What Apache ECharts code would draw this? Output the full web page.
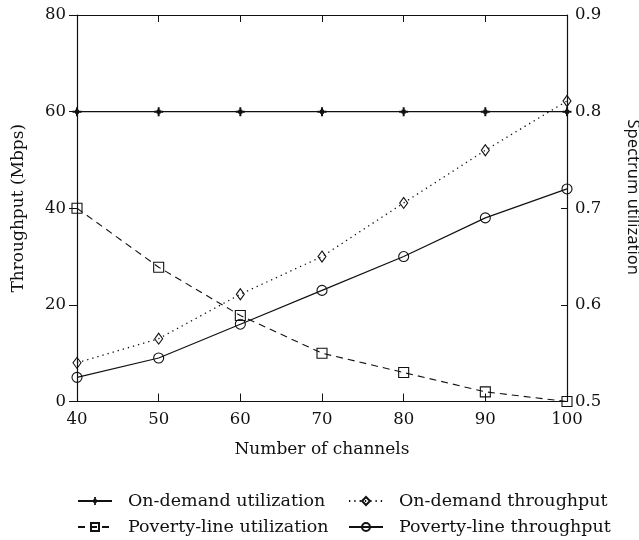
<!DOCTYPE html>
<html>
<head>
<meta charset="utf-8">
<script src="https://cdn.jsdelivr.net/npm/echarts@6/dist/echarts.min.js"></script>
<style>
  html, body { margin: 0; padding: 0; background: #fff; }
  #chart { width: 639px; height: 540px; }
</style>
</head>
<body>
<div id="chart"></div>
<script>
// Number of channels on the x axis
const channels = [40, 50, 60, 70, 80, 90, 100];

// Spectrum utilization (right axis)
const onDemandUtilization = [0.8, 0.8, 0.8, 0.8, 0.8, 0.8, 0.8];
const povertyLineUtilization = [0.70, 0.639, 0.589, 0.55, 0.53, 0.51, 0.50];

// Throughput in Mbps (left axis)
const onDemandThroughput = [8, 13, 22.2, 30, 41.1, 52, 62.2];
const povertyLineThroughput = [5, 9, 16, 23, 30, 38, 44];

const seriesNames = [
  'On-demand utilization',
  'On-demand throughput',
  'Poverty-line utilization',
  'Poverty-line throughput'
];

const serif = 'DejaVu Serif';
const ink = '#111';

const pairs = (ys) => channels.map((x, i) => [x, ys[i]]);

// small bold cross used for the on-demand utilization points
const plusSymbol = 'path://M-1,-4.5 L1,-4.5 L1,-2 L2,-2 L2,-1 L4.5,-1 L4.5,1 L2,1 L2,2 L1,2 L1,4.5 L-1,4.5 L-1,2 L-2,2 L-2,1 L-4.5,1 L-4.5,-1 L-2,-1 L-2,-2 L-1,-2 Z';

const hollow = { color: 'rgba(255,255,255,0)', borderColor: ink, borderWidth: 1.1 };

const chart = echarts.init(document.getElementById('chart'), null, { renderer: 'canvas' });

const legendBase = {
  orient: 'vertical',
  selectedMode: false,
  itemWidth: 34,
  itemHeight: 10,
  itemGap: 6,
  padding: 0,
  textStyle: { fontFamily: serif, fontSize: 17.5, lineHeight: 20, color: ink, padding: [0, 0, 0, 11] }
};

chart.setOption({
  animation: false,
  backgroundColor: '#fff',
  grid: { left: 77, right: 72, top: 15, bottom: 138.5, containLabel: false, outerBoundsMode: 'none' },
  legend: [
    Object.assign({}, legendBase, { left: 77, top: 491, data: [seriesNames[0], seriesNames[2]] }),
    Object.assign({}, legendBase, { left: 348, top: 491, data: [seriesNames[1], seriesNames[3]] })
  ],
  xAxis: [
    {
      type: 'value', min: 40, max: 100, interval: 10, position: 'bottom',
      name: 'Number of channels', nameLocation: 'middle', nameGap: 40,
      nameTextStyle: { fontFamily: serif, fontSize: 17, color: ink },
      axisLine: { lineStyle: { color: ink, width: 1.2 } },
      axisTick: { inside: true, length: 8, lineStyle: { color: ink, width: 1 } },
      axisLabel: { fontFamily: serif, fontSize: 16.5, color: ink, margin: 10 },
      splitLine: { show: false }
    },
    {
      type: 'value', min: 40, max: 100, interval: 10, position: 'top',
      axisLine: { lineStyle: { color: ink, width: 1.2 } },
      axisTick: { inside: true, length: 7, lineStyle: { color: ink, width: 1 } },
      axisLabel: { show: false },
      splitLine: { show: false }
    }
  ],
  yAxis: [
    {
      type: 'value', min: 0, max: 80, interval: 20, position: 'left',
      name: 'Throughput (Mbps)', nameLocation: 'middle', nameGap: 50,
      nameTextStyle: { fontFamily: serif, fontSize: 17, color: ink },
      axisLine: { show: true, lineStyle: { color: ink, width: 1.2 } },
      axisTick: { show: true, inside: false, length: 8, lineStyle: { color: ink, width: 1 } },
      axisLabel: { fontFamily: serif, fontSize: 16.5, color: ink, margin: 11 },
      splitLine: { show: false }
    },
    {
      type: 'value', min: 0.5, max: 0.9, interval: 0.1, position: 'right',
      name: 'Spectrum utilization', nameLocation: 'middle', nameGap: 57, nameRotate: -90,
      nameTextStyle: { fontFamily: 'Noto Sans', fontSize: 16.5, color: ink, padding: [0, 22, 0, 0] },
      axisLine: { show: true, lineStyle: { color: ink, width: 1.2 } },
      axisTick: { show: true, inside: true, length: 6, lineStyle: { color: ink, width: 1 } },
      axisLabel: { fontFamily: serif, fontSize: 16.5, color: ink, margin: 8,
                   formatter: (v) => v.toFixed(1) },
      splitLine: { show: false }
    }
  ],
  series: [
    {
      name: seriesNames[0], type: 'line', xAxisIndex: 0, yAxisIndex: 1,
      data: pairs(onDemandUtilization),
      symbol: plusSymbol, symbolSize: 9,
      itemStyle: { color: ink },
      lineStyle: { color: ink, width: 1.2, type: 'solid' },
      z: 3
    },
    {
      name: seriesNames[1], type: 'line', xAxisIndex: 0, yAxisIndex: 0,
      data: pairs(onDemandThroughput),
      symbol: 'diamond', symbolSize: [8, 11],
      itemStyle: hollow,
      lineStyle: { color: ink, width: 1.3, type: [1.3, 4] },
      z: 4
    },
    {
      name: seriesNames[2], type: 'line', xAxisIndex: 0, yAxisIndex: 1,
      data: pairs(povertyLineUtilization),
      symbol: 'rect', symbolSize: 10,
      itemStyle: hollow,
      lineStyle: { color: ink, width: 1.1, type: [7, 5] },
      z: 4
    },
    {
      name: seriesNames[3], type: 'line', xAxisIndex: 0, yAxisIndex: 0,
      data: pairs(povertyLineThroughput),
      symbol: 'circle', symbolSize: 10,
      itemStyle: hollow,
      lineStyle: { color: ink, width: 1.2, type: 'solid' },
      z: 4
    }
  ]
});
</script>
</body>
</html>
